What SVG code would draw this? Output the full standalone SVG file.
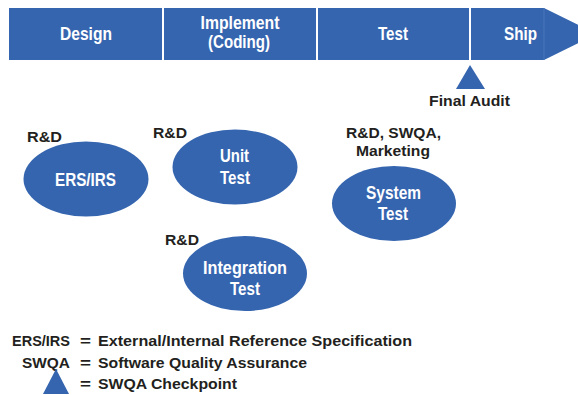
<svg xmlns="http://www.w3.org/2000/svg" width="578" height="395" viewBox="0 0 578 395">
<style>
text{font-family:"Liberation Sans",Arial,sans-serif;font-weight:bold}
.w{fill:#ffffff;font-size:17.5px;text-anchor:middle}
.k{fill:#231f20;font-size:15.5px}
.c{text-anchor:middle}
.e{text-anchor:end}
.b{fill:#3565af}
</style>
<rect width="578" height="395" fill="#ffffff"/>
<g id="timeline">
<path class="b" d="M9 8H544L597 34L544 60H9Z"/>
<g stroke="#ffffff" stroke-width="2">
<line x1="163" y1="8" x2="163" y2="60"/>
<line x1="317" y1="8" x2="317" y2="60"/>
<line x1="470" y1="8" x2="470" y2="60"/>
</g>
<line x1="544" y1="8" x2="544" y2="60" stroke="#4f7cc0" stroke-width="0.8"/>
<text class="w" x="86" y="39.5" textLength="52" lengthAdjust="spacingAndGlyphs">Design</text>
<text class="w" x="240" y="29" textLength="79" lengthAdjust="spacingAndGlyphs">Implement</text>
<text class="w" x="239" y="48" textLength="62" lengthAdjust="spacingAndGlyphs">(Coding)</text>
<text class="w" x="393" y="39.5" textLength="30" lengthAdjust="spacingAndGlyphs">Test</text>
<text class="w" x="520.5" y="39.5" textLength="33" lengthAdjust="spacingAndGlyphs">Ship</text>
</g>
<g id="final-audit">
<polygon class="b" points="470,65 485,89 456,89"/>
<text class="k c" x="469.5" y="106" textLength="81" lengthAdjust="spacingAndGlyphs">Final Audit</text>
</g>
<g id="ers-irs">
<ellipse class="b" cx="86" cy="179" rx="62.5" ry="37.5"/>
<text class="w" x="85.5" y="186" textLength="61" lengthAdjust="spacingAndGlyphs">ERS/IRS</text>
<text class="k" x="27" y="142" textLength="35" lengthAdjust="spacingAndGlyphs">R&amp;D</text>
</g>
<g id="unit-test">
<ellipse class="b" cx="235" cy="167" rx="62.5" ry="37.5"/>
<text class="w" x="234.5" y="162" textLength="29" lengthAdjust="spacingAndGlyphs">Unit</text>
<text class="w" x="235" y="183.5" textLength="30" lengthAdjust="spacingAndGlyphs">Test</text>
<text class="k" x="153" y="138" textLength="34" lengthAdjust="spacingAndGlyphs">R&amp;D</text>
</g>
<g id="system-test">
<ellipse class="b" cx="394" cy="203.5" rx="62" ry="37.5"/>
<text class="w" x="393.5" y="199" textLength="55" lengthAdjust="spacingAndGlyphs">System</text>
<text class="w" x="393" y="219.5" textLength="30" lengthAdjust="spacingAndGlyphs">Test</text>
<text class="k c" x="393.5" y="138" textLength="95" lengthAdjust="spacingAndGlyphs">R&amp;D, SWQA,</text>
<text class="k c" x="393" y="156" textLength="74" lengthAdjust="spacingAndGlyphs">Marketing</text>
</g>
<g id="integration-test">
<ellipse class="b" cx="245" cy="273.5" rx="62" ry="37.5"/>
<text class="w" x="245" y="273.5" textLength="84" lengthAdjust="spacingAndGlyphs">Integration</text>
<text class="w" x="245" y="295" textLength="30" lengthAdjust="spacingAndGlyphs">Test</text>
<text class="k" x="165" y="244.5" textLength="34" lengthAdjust="spacingAndGlyphs">R&amp;D</text>
</g>
<g id="connectors"/>
<g id="legend">
<text class="k" x="12" y="346" textLength="58" lengthAdjust="spacingAndGlyphs">ERS/IRS</text>
<text class="k" x="80" y="346" textLength="11" lengthAdjust="spacingAndGlyphs">=</text>
<text class="k" x="98" y="346" textLength="314" lengthAdjust="spacingAndGlyphs">External/Internal Reference Specification</text>
<text class="k" x="22" y="368" textLength="48" lengthAdjust="spacingAndGlyphs">SWQA</text>
<text class="k" x="80" y="368" textLength="11" lengthAdjust="spacingAndGlyphs">=</text>
<text class="k" x="98" y="368" textLength="209" lengthAdjust="spacingAndGlyphs">Software Quality Assurance</text>
<polygon class="b" points="56,369 69,394 43,394"/>
<text class="k" x="80" y="389" textLength="11" lengthAdjust="spacingAndGlyphs">=</text>
<text class="k" x="98" y="389" textLength="139" lengthAdjust="spacingAndGlyphs">SWQA Checkpoint</text>
</g>
</svg>
